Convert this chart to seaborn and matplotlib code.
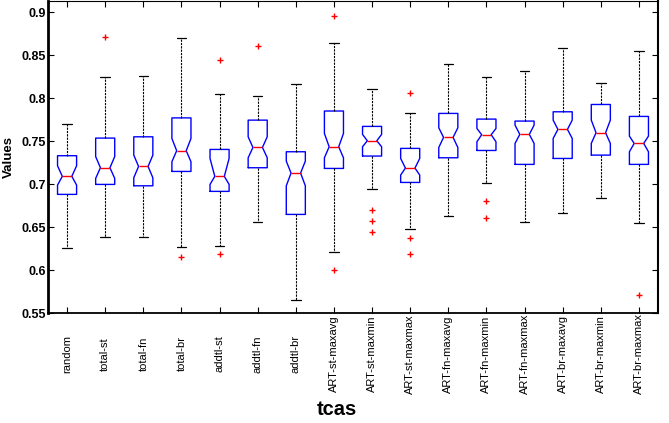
import numpy as np
import pandas as pd
import seaborn as sns
import matplotlib
matplotlib.use("Agg")
import matplotlib.pyplot as plt

# values
tcas = ['random', 'total-st', 'total-fn', 'total-br', 'addtl-st', 'addtl-fn',
        'addtl-br', 'ART-st-maxavg', 'ART-st-maxmin', 'ART-st-maxmax',
        'ART-fn-maxavg', 'ART-fn-maxmin', 'ART-fn-maxmax', 'ART-br-maxavg',
        'ART-br-maxmin', 'ART-br-maxmax']

med = [0.709, 0.719, 0.7205, 0.7388, 0.709, 0.7426, 0.7128, 0.7434,
       0.7504, 0.7186, 0.7543, 0.7574, 0.7578, 0.7636, 0.7597, 0.7473]
q1 = [0.688, 0.6996, 0.698, 0.7147, 0.6915, 0.719, 0.6647, 0.7182,
      0.7326, 0.7019, 0.7306, 0.7391, 0.7229, 0.7298, 0.7337, 0.7229]
q3 = [0.733, 0.7535, 0.755, 0.777, 0.7403, 0.7744, 0.7376, 0.785,
      0.7671, 0.7415, 0.7822, 0.7756, 0.7733, 0.7841, 0.7926, 0.7787]
notch_lo = [0.6988, 0.7066, 0.7074, 0.726, 0.6996, 0.7306, 0.698, 0.7306,
            0.7434, 0.7105, 0.7426, 0.7492, 0.7473, 0.7531, 0.7473, 0.7376]
notch_hi = [0.7213, 0.732, 0.7337, 0.753, 0.7298, 0.755, 0.7267, 0.7589,
            0.7578, 0.7298, 0.7655, 0.7647, 0.7686, 0.7744, 0.7744, 0.7558]
whisk_lo = [0.626, 0.638, 0.638, 0.6266, 0.6285, 0.6563, 0.5656, 0.621,
            0.6938, 0.6477, 0.6633, 0.7008, 0.6559, 0.6659, 0.6841, 0.6547]
whisk_hi = [0.770, 0.824, 0.826, 0.8705, 0.8043, 0.803, 0.817, 0.8636,
            0.8109, 0.7826, 0.8395, 0.824, 0.831, 0.8581, 0.8178, 0.855]

outlier_tcas = ['total-st', 'total-br', 'addtl-st', 'addtl-st', 'addtl-fn',
                'ART-st-maxavg', 'ART-st-maxavg', 'ART-st-maxmin',
                'ART-st-maxmin', 'ART-st-maxmin', 'ART-st-maxmax',
                'ART-st-maxmax', 'ART-st-maxmax', 'ART-fn-maxmin',
                'ART-fn-maxmin', 'ART-br-maxmax']
outlier_vals = [0.871, 0.6148, 0.8438, 0.6184, 0.861, 0.896, 0.600, 0.670,
                0.657, 0.644, 0.8054, 0.637, 0.6188, 0.680, 0.660, 0.5707]

sns.set_style("white")
plt.rcParams['font.family'] = ['Liberation Sans', 'DejaVu Sans']
plt.rcParams['text.color'] = 'black'
plt.rcParams['axes.labelcolor'] = 'black'
plt.rcParams['xtick.color'] = 'black'
plt.rcParams['ytick.color'] = 'black'

fig = plt.figure(figsize=(6.69, 4.23), dpi=100)
ax = fig.add_axes([48 / 669, 110 / 423, 610 / 669, 312 / 423])

# box statistics for matplotlib's bxp
stats = []
for i in range(len(tcas)):
    stats.append(dict(med=med[i], q1=q1[i], q3=q3[i], cilo=notch_lo[i],
                      cihi=notch_hi[i], whislo=whisk_lo[i], whishi=whisk_hi[i],
                      fliers=[], label=tcas[i]))

ax.bxp(stats, positions=range(len(tcas)), widths=0.5, shownotches=True,
       showfliers=False, manage_ticks=False,
       boxprops=dict(color='#0000ff', linewidth=1.0),
       medianprops=dict(color='#ff0000', linewidth=1.0),
       whiskerprops=dict(color='black', linewidth=0.8, linestyle=(0, (2, 1))),
       capprops=dict(color='black', linewidth=0.9))

# outliers
out_df = pd.DataFrame({'tcas': outlier_tcas, 'value': outlier_vals})
sns.stripplot(data=out_df, x='tcas', y='value', order=tcas, jitter=False,
              marker='+', color='red', size=5, linewidth=1, ax=ax)

ax.set_xlim(-0.5, len(tcas) - 0.5)
ax.set_ylim(0.55, 0.913)

yt = np.arange(0.55, 0.901, 0.05)
ax.set_yticks(yt)
ax.set_yticklabels(['%g' % round(v, 2) for v in yt], fontsize=9,
                   fontweight='bold', color='black')
ax.set_xticks(range(len(tcas)))
ax.set_xticklabels(tcas, rotation=90, fontsize=8, va='center', ha='center',
                   color='black')

ax.tick_params(axis='x', direction='in', length=4, width=0.8, top=True,
               bottom=True, pad=29.5, colors='black')
ax.tick_params(axis='y', direction='in', length=4, width=0.8, left=True,
               right=True, pad=1.5, colors='black')

for side, lw in [('left', 2.0), ('bottom', 1.3), ('right', 1.5), ('top', 0.8)]:
    ax.spines[side].set_visible(True)
    ax.spines[side].set_color('black')
    ax.spines[side].set_linewidth(lw)

ax.set_xlabel('')
ax.set_ylabel('Values', fontsize=9.5, fontweight='bold', color='black')
ax.yaxis.set_label_coords(-0.054, 0.5)
fig.text(337 / 669, 1 - 415 / 423, 'tcas', fontsize=14.5, fontweight='bold',
         ha='center', va='baseline', color='black')

fig.savefig('out.png', dpi=100)
